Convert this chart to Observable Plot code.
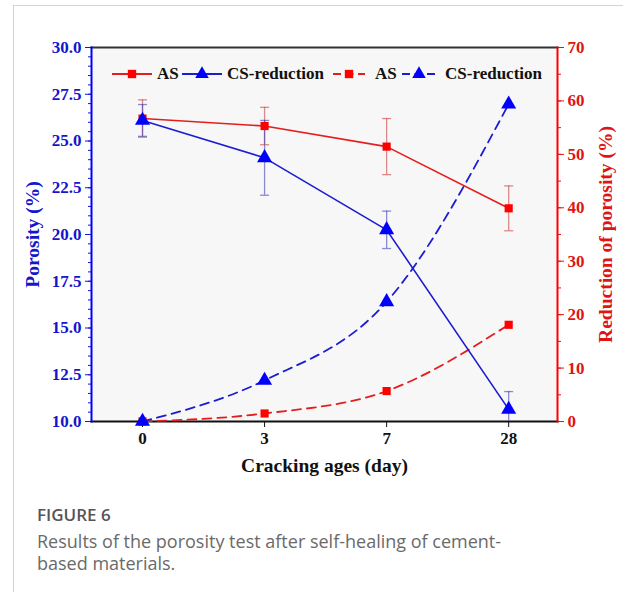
<!DOCTYPE html>
<html><head><meta charset="utf-8">
<script src="https://cdn.jsdelivr.net/npm/d3@7"></script>
<script src="https://cdn.jsdelivr.net/npm/@observablehq/plot@0.6"></script>
<style>
html,body{margin:0;padding:0;background:#fff;width:623px;height:592px;overflow:hidden;}
#card{position:absolute;left:13px;top:5px;right:0;bottom:0;border-left:1px solid #d4d4d4;border-top:1px solid #d4d4d4;}
#chart{position:absolute;left:0;top:0;}
#legend{position:absolute;left:0;top:0;width:609px;height:120px;pointer-events:none;}
.lt{position:absolute;font-family:"Liberation Serif";font-weight:bold;font-size:17px;color:#111;line-height:20px;top:58px;white-space:nowrap;}
#caption{position:absolute;left:23px;top:498px;font-family:"Open Sans";color:#6a6a6a;}
#caption .fig{font-size:17px;font-weight:600;color:#555;line-height:22px;margin-bottom:4px;}
#caption .txt{font-size:18px;line-height:22px;white-space:nowrap;}
</style></head>
<body>
<div id="card">
  <div id="chart"></div>
  <div id="legend"></div>
  <div id="caption">
    <div class="fig">FIGURE 6</div>
    <div class="txt">Results of the porosity test after self-healing of cement-</div>
    <div class="txt">based materials.</div>
  </div>
</div>
<script>
// ---- data ----
const ages = ["0", "3", "7", "28"];
const asPorosity = [26.2, 25.8, 24.7, 21.4];
const asErr = [1.0, 1.0, 1.5, 1.2];
const csPorosity = [26.1, 24.1, 20.25, 10.65];
const csErr = [0.85, 2.0, 1.0, 0.95];
const asReduction = [0, 1.5, 5.7, 18.1];
const csReduction = [0, 7.7, 22.4, 59.4];
const leftTicks = [10, 12.5, 15, 17.5, 20, 22.5, 25, 27.5, 30];
const rightTicks = [0, 10, 20, 30, 40, 50, 60, 70];

const RED = "#ff0000", REDL = "#e41e1e", BLUE = "#0000ff", BLUEL = "#1c1cd0";
const LBLUE = "#1515cc", LRED = "#e01414";

// right axis (0..70) mapped onto left axis (10..30)
const toLeft = v => 10 + v * 20 / 70;
const fromLeft = y => (y - 10) * 70 / 20;

const rows = ages.map((a, i) => ({
  i, as: asPorosity[i], asE: asErr[i], cs: csPorosity[i], csE: csErr[i],
  asR: toLeft(asReduction[i]), csR: toLeft(csReduction[i])
}));
const cap = 0.037;

const plot = Plot.plot({
  width: 609, height: 474,
  marginLeft: 77, marginRight: 66, marginTop: 41, marginBottom: 59,
  style: {fontFamily: "Liberation Serif", fontSize: "17px", fontWeight: "bold", background: "transparent", overflow: "visible"},
  x: {type: "linear", domain: [-0.418, 3.40]},
  y: {domain: [10, 30]},
  marks: [
    Plot.frame({fill: "#f7f7f7", stroke: null}),
    // left axis
    Plot.axisY({ticks: d3.range(10, 30.001, 0.5), tickSize: 3, tickFormat: () => "", color: LBLUE, label: null}),
    Plot.axisY({ticks: leftTicks, tickSize: 6, tickPadding: 4, tickFormat: d3.format(".1f"), color: LBLUE, label: null}),
    // right axis
    Plot.axisY({anchor: "right", ticks: d3.range(0, 70.001, 5).map(toLeft), tickSize: 3, tickFormat: () => "", color: LRED, label: null}),
    Plot.axisY({anchor: "right", ticks: rightTicks.map(toLeft), tickSize: 6, tickPadding: 4, tickFormat: d => String(Math.round(fromLeft(d))), color: LRED, label: null}),
    // x axis
    Plot.axisX({ticks: rows.map(d => d.i), tickSize: 6, tickPadding: 4, tickFormat: i => ages[i], color: "#111", label: null}),
    // frame sides
    Plot.frame({anchor: "top", stroke: "#333", strokeWidth: 2}),
    Plot.frame({anchor: "bottom", stroke: "#111", strokeWidth: 2}),
    Plot.frame({anchor: "left", stroke: BLUE, strokeWidth: 2}),
    Plot.frame({anchor: "right", stroke: RED, strokeWidth: 2}),
    // error bars
    Plot.ruleX(rows, {x: "i", y1: d => d.as - d.asE, y2: d => d.as + d.asE, stroke: "#c84040", strokeOpacity: 0.6, strokeWidth: 1.3, clip: true}),
    Plot.link(rows, {x1: d => d.i - cap, x2: d => d.i + cap, y1: d => d.as + d.asE, y2: d => d.as + d.asE, stroke: "#c84040", strokeOpacity: 0.6, strokeWidth: 1.3}),
    Plot.link(rows, {x1: d => d.i - cap, x2: d => d.i + cap, y1: d => d.as - d.asE, y2: d => d.as - d.asE, stroke: "#c84040", strokeOpacity: 0.6, strokeWidth: 1.3}),
    Plot.ruleX(rows, {x: "i", y1: d => Math.max(10, d.cs - d.csE), y2: d => d.cs + d.csE, stroke: "#4040b8", strokeOpacity: 0.6, strokeWidth: 1.3}),
    Plot.link(rows, {x1: d => d.i - cap, x2: d => d.i + cap, y1: d => d.cs + d.csE, y2: d => d.cs + d.csE, stroke: "#4040b8", strokeOpacity: 0.6, strokeWidth: 1.3}),
    Plot.link(rows.filter(d => d.cs - d.csE > 10), {x1: d => d.i - cap, x2: d => d.i + cap, y1: d => d.cs - d.csE, y2: d => d.cs - d.csE, stroke: "#4040b8", strokeOpacity: 0.6, strokeWidth: 1.3}),
    // dashed reduction lines
    Plot.line(rows, {x: "i", y: "asR", stroke: REDL, strokeWidth: 1.8, strokeDasharray: "9,6", curve: "monotone-x"}),
    Plot.line(rows, {x: "i", y: "csR", stroke: BLUEL, strokeWidth: 1.8, strokeDasharray: "9,6", curve: "monotone-x"}),
    // solid porosity lines
    Plot.line(rows, {x: "i", y: "as", stroke: REDL, strokeWidth: 1.6}),
    Plot.line(rows, {x: "i", y: "cs", stroke: BLUEL, strokeWidth: 1.6}),
    // markers
    Plot.dot(rows, {x: "i", y: "asR", symbol: "square", r: 4.6, fill: RED, stroke: null}),
    Plot.dot(rows, {x: "i", y: "csR", symbol: "triangle", r: 5.6, fill: BLUE, stroke: null}),
    Plot.dot(rows, {x: "i", y: "as", symbol: "square", r: 4.6, fill: RED, stroke: null}),
    Plot.dot(rows, {x: "i", y: "cs", symbol: "triangle", r: 5.6, fill: BLUE, stroke: null}),
    // axis titles
    Plot.text(["Porosity (%)"], {frameAnchor: "left", dx: -59, rotate: -90, textAnchor: "middle", lineAnchor: "middle", fill: LBLUE, fontSize: 19.5, fontWeight: "bold"}),
    Plot.text(["Reduction of porosity (%)"], {frameAnchor: "right", dx: 48, rotate: -90, textAnchor: "middle", lineAnchor: "middle", fill: LRED, fontSize: 19.5, fontWeight: "bold"}),
    Plot.text(["Cracking ages (day)"], {frameAnchor: "bottom", dy: 44, textAnchor: "middle", lineAnchor: "middle", fill: "#111", fontSize: 19.5, fontWeight: "bold"})
  ]
});
document.getElementById("chart").appendChild(plot);

// ---- legend (inside plot area, top) ----
const legendItems = [
  {label: "AS", color: REDL, fill: RED, symbol: "square", dashed: false, lx: 98, lw: 40, tx: 143},
  {label: "CS-reduction", color: BLUEL, fill: BLUE, symbol: "triangle", dashed: false, lx: 168, lw: 40, tx: 213},
  {label: "AS", color: REDL, fill: RED, symbol: "square", dashed: true, lx: 319, lw: 32, tx: 361},
  {label: "CS-reduction", color: BLUEL, fill: BLUE, symbol: "triangle", dashed: true, lx: 388, lw: 34, tx: 431}
];
const lg = document.getElementById("legend");
const ns = "http://www.w3.org/2000/svg";
const svg = document.createElementNS(ns, "svg");
svg.setAttribute("width", 609); svg.setAttribute("height", 120);
svg.style.position = "absolute"; svg.style.left = "0"; svg.style.top = "0";
const ly = 68;
legendItems.forEach(it => {
  const ln = document.createElementNS(ns, "line");
  ln.setAttribute("x1", it.lx); ln.setAttribute("x2", it.lx + it.lw);
  ln.setAttribute("y1", ly); ln.setAttribute("y2", ly);
  ln.setAttribute("stroke", it.color); ln.setAttribute("stroke-width", 1.8);
  if (it.dashed) ln.setAttribute("stroke-dasharray", "8,4.5");
  svg.appendChild(ln);
  const p = document.createElementNS(ns, "path");
  const cx = it.lx + it.lw / 2;
  p.setAttribute("d", d3.symbol(it.symbol === "square" ? d3.symbolSquare : d3.symbolTriangle, it.symbol === "square" ? 70 : 80)());
  p.setAttribute("transform", `translate(${cx},${ly})`);
  p.setAttribute("fill", it.fill);
  svg.appendChild(p);
  const t = document.createElement("div");
  t.className = "lt"; t.textContent = it.label; t.style.left = it.tx + "px";
  lg.appendChild(t);
});
lg.appendChild(svg);
</script>
</body></html>
